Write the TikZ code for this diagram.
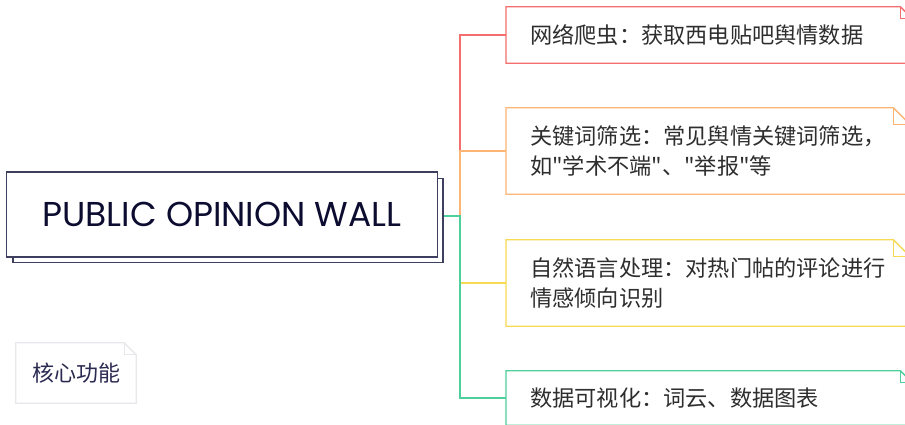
\documentclass[tikz,border=0pt]{standalone}
\usepackage{fontspec}
\newfontfamily\cjk{Noto Sans CJK SC}
\newfontfamily\popfont{Poppins}
\definecolor{cred}{HTML}{F46E6E}
\definecolor{corange}{HTML}{FCB574}
\definecolor{cyellow}{HTML}{F6DA54}
\definecolor{cgreen}{HTML}{4ECF9B}
\definecolor{navy}{HTML}{3E3E5E}
\definecolor{navytext}{HTML}{0C0C30}
\definecolor{coretext}{HTML}{2B2B52}
\definecolor{txt}{HTML}{2E2E2E}
\definecolor{coreline}{HTML}{E8E8EC}
\newcommand\foldline[3]{%
  \draw[#3, line width=1.3pt, line join=miter, fill=white] (#1.north west) -- ([xshift=-#2]#1.north east) -- ([yshift=-#2]#1.north east) -- (#1.south east) -- (#1.south west) -- cycle;
  \draw[#3, line width=1.3pt] ([xshift=-#2]#1.north east) -- ([xshift=-#2,yshift=-#2]#1.north east) -- ([yshift=-#2]#1.north east);
}
\begin{document}
\begin{tikzpicture}[x=1pt,y=-1pt,
  foldnode/.style={inner xsep=24pt, inner ysep=0pt, align=left, anchor=west, text=txt,
    font=\cjk\fontsize{22.2}{30}\selectfont},
  conn/.style={line width=1.3pt},
  mainbox/.style={draw=navy, line width=1.5pt, fill=white, minimum width=431pt, minimum height=85pt,
    text=navytext, font=\popfont\fontsize{34.5}{40}\selectfont},
  shadowbox/.style={draw=navy, line width=1.5pt, fill=white, minimum width=430pt, minimum height=84pt}
]
\useasboundingbox (0,0) rectangle (905,425);
\clip (0,0) rectangle (905,425);
\fill[white] (0,0) rectangle (905,425);

% main topic with offset shadow
\node[shadowbox] (shadow) at (228,220.5) {};
\node[mainbox] (main) at (222,214.5) {PUBLIC OPINION WALL};

% branch boxes (anchors for outlines and connectors)
\node[foldnode, minimum width=406pt, minimum height=56pt, text width=358pt] (b1) at (506,35) {};
\node[foldnode, minimum width=404pt, minimum height=86pt, text width=356pt] (b2) at (506,151) {};
\node[foldnode, minimum width=404pt, minimum height=86pt, text width=356pt] (b3) at (506,283) {};
\node[foldnode, minimum width=406pt, minimum height=54pt, text width=358pt] (b4) at (506,398) {};

% connectors
\coordinate (j) at (460,216);
\draw[conn, cred] (shadow.east |- j) -- (j) |- (b1.west);
\draw[conn, corange] (shadow.east |- j) -- (j) |- (b2.west);
\draw[conn, cyellow] (shadow.east |- j) -- (j) |- (b3.west);
\draw[conn, cgreen] (shadow.east |- j) -- (j) |- (b4.west);

\foldline{b1}{12pt}{cred}
\foldline{b2}{17pt}{corange}
\foldline{b3}{17pt}{cyellow}
\foldline{b4}{12pt}{cgreen}

% texts on top of the outlines
\node[foldnode, minimum width=406pt, minimum height=56pt, text width=358pt] (t1) at (b1.west)
  {网络爬虫：获取西电贴吧舆情数据};
\node[foldnode, minimum width=404pt, minimum height=86pt, text width=356pt] (t2) at (b2.west)
  {关键词筛选：常见舆情关键词筛选，\\如"学术不端"、"举报"等};
\node[foldnode, minimum width=404pt, minimum height=86pt, text width=356pt] (t3) at (b3.west)
  {自然语言处理：对热门帖的评论进行\\情感倾向识别};
\node[foldnode, minimum width=406pt, minimum height=54pt, text width=358pt] (t4) at (b4.west)
  {数据可视化：词云、数据图表};

% floating topic
\node[minimum width=120pt, minimum height=60pt, inner sep=0pt] (core) at (76,373) {};
\foldline{core}{12pt}{coreline}
\node[text=coretext, font=\cjk\fontsize{22}{26}\selectfont] (coretxt) at (core.center) {核心功能};
\end{tikzpicture}
\end{document}
